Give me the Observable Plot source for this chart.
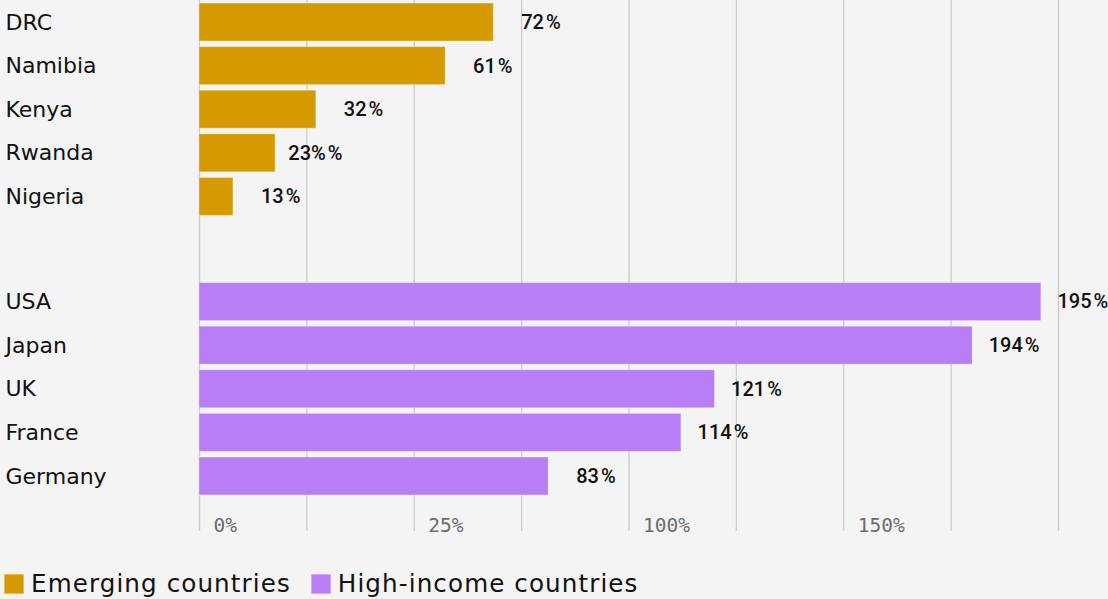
<!DOCTYPE html>
<html>
<head>
<meta charset="utf-8">
<script src="https://cdn.jsdelivr.net/npm/d3@7"></script>
<script src="https://cdn.jsdelivr.net/npm/@observablehq/plot@0.6"></script>
<style>
  html, body { margin: 0; padding: 0; background: #f4f4f4; }
  #wrap { position: relative; width: 1108px; height: 599px; background: #f4f4f4; }
  #chart svg { display: block; }
  g[aria-label="country"] { letter-spacing: 1px; }
  .legend { position: absolute; left: 4px; top: 574px; display: flex; align-items: center;
            font-family: "DejaVu Sans"; font-size: 24.6px; letter-spacing: 1.1px; color: #111; line-height: 20px; }
  .legend .item { display: flex; align-items: center; margin-right: 20px; }
  .legend .sw { width: 20px; height: 20px; margin-right: 7px; box-sizing: border-box; border: 1px solid rgba(255,255,255,0.35); }
</style>
</head>
<body>
<div id="wrap">
  <div id="chart"></div>
  <div class="legend" id="legend"></div>
</div>
<script>
const groups = ["Emerging countries", "High-income countries"];
const groupColors = ["#d49a00", "#b87ef5"];

const emergingCountries = ["DRC", "Namibia", "Kenya", "Rwanda", "Nigeria"];
const emergingValues = [68.5, 57.3, 27.2, 17.7, 7.9];
const emergingLabels = ["72", "61", "32", "23%", "13"];

const highIncomeCountries = ["USA", "Japan", "UK", "France", "Germany"];
const highIncomeValues = [196, 180, 120, 112.2, 81.3];
const highIncomeLabels = ["195", "194", "121", "114", "83"];

const gridTicks = [0, 25, 50, 75, 100, 125, 150, 175, 200];
const labelTicks = [0, 50, 100, 150];
const tickLabels = ["0%", "25%", "100%", "150%"];

const rows = [];
emergingCountries.forEach((c, i) => rows.push({group: groups[0], rank: i, country: c, value: emergingValues[i], label: emergingLabels[i]}));
highIncomeCountries.forEach((c, i) => rows.push({group: groups[1], rank: i, country: c, value: highIncomeValues[i], label: highIncomeLabels[i]}));

const gridTop = gridTicks.map(x => ({x, group: groups[0]}));
const gridBottom = gridTicks.map(x => ({x, group: groups[1]}));

const chart = Plot.plot({
  width: 1108,
  height: 545,
  marginLeft: 199,
  marginRight: 50,
  marginTop: 0,
  marginBottom: 47,
  style: {background: "transparent"},
  x: {domain: [0, 200]},
  y: {axis: null, domain: [0, 1, 2, 3, 4], paddingInner: 0.13, paddingOuter: 0.07, round: false},
  fy: {axis: null, domain: groups, paddingInner: 0.2186, paddingOuter: 0, round: false},
  color: {domain: groups, range: groupColors},
  marks: [
    Plot.ruleX(gridTop, {x: "x", fy: "group", stroke: "#cbcbcb", strokeWidth: 1.3, insetBottom: -62}),
    Plot.ruleX(gridBottom, {x: "x", fy: "group", stroke: "#cbcbcb", strokeWidth: 1.3, insetBottom: -33}),
    Plot.axisX({ticks: labelTicks, tickSize: 0, tickPadding: 20, tickFormat: v => tickLabels[labelTicks.indexOf(v)],
                textAnchor: "start", dx: 14, fontFamily: "DejaVu Sans Mono", fontSize: 19.5, color: "#6c6c6c"}),
    Plot.barX(rows, {x: "value", y: "rank", fy: "group", fill: "group", stroke: "white", strokeOpacity: 0.3, strokeWidth: 1}),
    Plot.text(rows, {x: "value", y: "rank", fy: "group", text: d => d.label + "\u200A%", textAnchor: "end", dx: 67,
                     fontFamily: "Roboto", fontWeight: 500, fontSize: 20, fill: "#111"}),
    Plot.text(rows, {y: "rank", fy: "group", text: "country", frameAnchor: "left", dx: -194, textAnchor: "start",
                     fontFamily: "DejaVu Sans", fontSize: 22, fill: "#111", ariaLabel: "country"})
  ]
});
document.getElementById("chart").appendChild(chart);

const legend = document.getElementById("legend");
groups.forEach((g, i) => {
  const item = document.createElement("div");
  item.className = "item";
  const sw = document.createElement("div");
  sw.className = "sw";
  sw.style.background = groupColors[i];
  const t = document.createElement("span");
  t.textContent = g;
  item.appendChild(sw);
  item.appendChild(t);
  legend.appendChild(item);
});
</script>
</body>
</html>
